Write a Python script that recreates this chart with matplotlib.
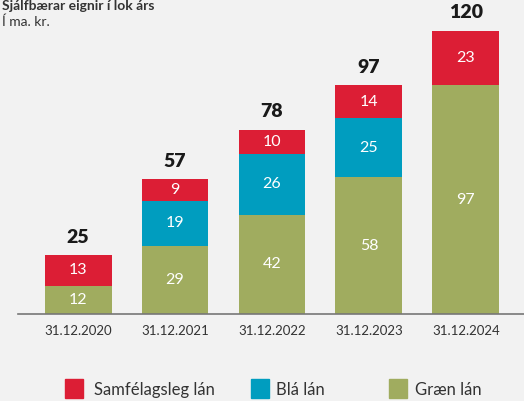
import numpy as np
import matplotlib.pyplot as plt
from matplotlib.patches import Rectangle

plt.rcParams['font.family'] = ['Lato', 'DejaVu Sans']

years = ['31.12.2020', '31.12.2021', '31.12.2022', '31.12.2023', '31.12.2024']
graen = [12, 29, 42, 58, 97]
bla = [0, 19, 26, 25, 0]
samfelag = [13, 9, 10, 14, 23]
totals = [25, 57, 78, 97, 120]

c_red = '#dc1e35'
c_blue = '#009dbf'
c_green = '#a0ac5f'
bg = '#f2f2f2'

fig = plt.figure(figsize=(5.24, 4.01), dpi=100, facecolor=bg)
ax = fig.add_axes([18/524, 87/401, 506/524, 125*2.36/401])
ax.set_facecolor(bg)

x = np.arange(len(years))
w = 0.69
g = np.array(graen)
b = np.array(bla)
s = np.array(samfelag)
ax.bar(x, g, w, color=c_green)
ax.bar(x, b, w, bottom=g, color=c_blue)
ax.bar(x, s, w, bottom=g+b, color=c_red)

for i in range(len(years)):
    ax.text(x[i], g[i]/2, str(g[i]), ha='center', va='center', color='white', fontsize=11.5)
    if b[i] > 0:
        ax.text(x[i], g[i]+b[i]/2, str(b[i]), ha='center', va='center', color='white', fontsize=11.5)
    ax.text(x[i], g[i]+b[i]+s[i]/2, str(s[i]), ha='center', va='center', color='white', fontsize=11.5)
    ax.text(x[i], totals[i]+4, str(totals[i]), ha='center', va='bottom', color='#1a1a1a',
            fontsize=14, fontweight='heavy')

ax.set_xlim(-0.62, 4.6)
ax.set_ylim(0, 125)
ax.set_xticks(x)
ax.set_xticklabels(years, fontsize=9.5, color='#333333')
ax.tick_params(axis='x', length=0, pad=8)
ax.set_yticks([])
for sp in ['top', 'right', 'left']:
    ax.spines[sp].set_visible(False)
ax.spines['bottom'].set_color('#777777')
ax.spines['bottom'].set_linewidth(1.2)

# heading
fig.text(2/524, 1 - 6/401, 'Sjálfbærar eignir í lok árs', fontsize=10, fontweight='bold',
         color='#333333', va='center', ha='left')
fig.text(2/524, 1 - 22/401, 'Í ma. kr.', fontsize=10, color='#333333', va='center', ha='left')

# legend
leg_items = [('Samfélagsleg lán', c_red, 65, 94), ('Blá lán', c_blue, 251, 276), ('Græn lán', c_green, 389, 415)]
for label, col, px, tx in leg_items:
    fig.patches.append(Rectangle((px/524, 1 - 398/401), 18/524, 19/401, transform=fig.transFigure,
                                 color=col, figure=fig))
    fig.text(tx/524, 1 - 390/401, label, fontsize=12, color='#333333', va='center', ha='left')

fig.savefig('out.png', dpi=100, facecolor=bg)
